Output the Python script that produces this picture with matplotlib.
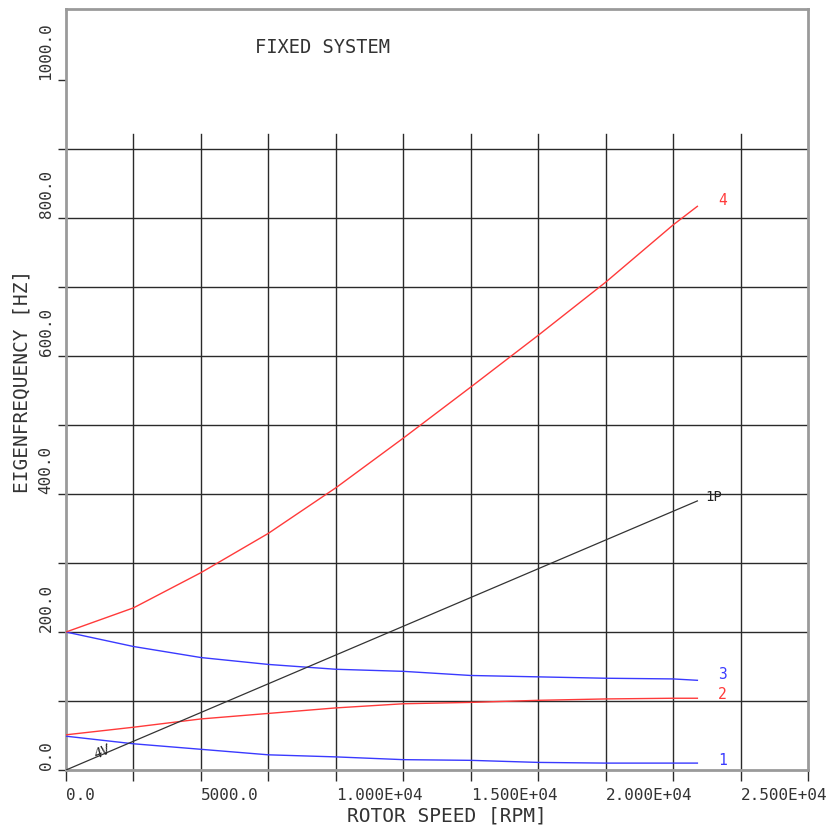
import matplotlib
matplotlib.use("Agg")
import matplotlib.pyplot as plt

# Campbell diagram data: rotor speed [rpm] vs. eigenfrequency [Hz]
speed = [0, 2500, 5000, 7500, 10000, 12500, 15000, 17500, 20000, 22500, 23400]
mode1 = [49, 38, 30, 22, 19, 15, 14, 11, 10, 10, 10]
mode2 = [51, 62, 74, 82, 90, 96, 98, 101, 103, 104, 104]
mode3 = [200, 179, 163, 153, 146, 143, 137, 135, 133, 132, 130]
mode4 = [200, 235, 286, 343, 409, 481, 555, 630, 707, 790, 817]
speed_1p = [0, 23400]
freq_1p = [0, 390]

mode_labels = ["1", "2", "3", "4"]
x_ticks = [0, 5000, 10000, 15000, 20000, 25000]
x_ticklabels = ["0.0", "5000.0", "1.000E+04", "1.500E+04", "2.000E+04", "2.500E+04"]
y_ticks = [0, 200, 400, 600, 800, 1000]
y_ticklabels = ["0.0", "200.0", "400.0", "600.0", "800.0", "1000.0"]

RED = "#ff3a3a"
BLUE = "#3a3aff"
GRID = "#2a2a2a"
TXT = "#333333"
FONT = "DejaVu Sans Mono"

fig = plt.figure(figsize=(8.3, 8.27), dpi=100)
ax = fig.add_axes([66 / 830, 57 / 827, 742 / 830, 761 / 827])
ax.set_xlim(0, 27500)
ax.set_ylim(0, 1103)

# grid: horizontal lines over full width, vertical ones stop above 900 Hz
for y in range(100, 1000, 100):
    ax.axhline(y, color=GRID, lw=1.0, zorder=1)
for x in range(2500, 27500, 2500):
    ax.plot([x, x], [0, 922], color=GRID, lw=1.0, zorder=1)

lw = 1.0
ax.plot(speed, mode1, color=BLUE, lw=lw, zorder=3)
ax.plot(speed, mode2, color=RED, lw=lw, zorder=3)
ax.plot(speed, mode3, color=BLUE, lw=lw, zorder=3)
ax.plot(speed, mode4, color=RED, lw=lw, zorder=3)
ax.plot(speed_1p, freq_1p, color="#333333", lw=0.9, zorder=3)

# curve labels at the end of each branch
for vals, lab, col, dy in [(mode1, mode_labels[0], BLUE, 2),
                           (mode2, mode_labels[1], RED, 3),
                           (mode3, mode_labels[2], BLUE, 4),
                           (mode4, mode_labels[3], RED, 4)]:
    ax.annotate(lab, (speed[-1], vals[-1]), xytext=(15, dy),
                textcoords="offset points", color=col, fontsize=10.5,
                family=FONT, va="center", ha="left")
ax.annotate("1P", (speed_1p[-1], freq_1p[-1]), xytext=(6, 3),
            textcoords="offset points", color="#222222", fontsize=10,
            family=FONT, va="center", ha="left")
ax.text(1350, 27, "4V", fontsize=10, family=FONT, style="italic",
        color="#222222", rotation=25, va="center", ha="center")

ax.text(0.2547, 0.9488, "FIXED SYSTEM", transform=ax.transAxes,
        fontsize=13.5, family=FONT, color=TXT, va="center", ha="left")

# ticks
ax.set_xticks(x_ticks)
ax.set_xticklabels(x_ticklabels)
ax.set_xticks(range(0, 27501, 2500), minor=True)
ax.set_yticks(y_ticks)
ax.set_yticklabels(y_ticklabels)
ax.set_yticks(range(0, 1001, 100), minor=True)
ax.tick_params(axis="x", which="both", direction="out", length=8,
               width=1.0, color=GRID, pad=5)
ax.tick_params(axis="y", which="both", direction="out", length=6,
               width=1.0, color=GRID, pad=3)
for lbl in ax.get_xticklabels():
    lbl.set_ha("left")
    lbl.set_family(FONT)
    lbl.set_fontsize(11.5)
    lbl.set_color(TXT)
for lbl in ax.get_yticklabels():
    lbl.set_rotation(90)
    lbl.set_va("bottom")
    lbl.set_ha("right")
    lbl.set_family(FONT)
    lbl.set_fontsize(11.5)
    lbl.set_color(TXT)

ax.set_xlabel("ROTOR SPEED [RPM]", family=FONT, fontsize=14, color=TXT)
ax.xaxis.set_label_coords(0.513, -0.048)
ax.set_ylabel("EIGENFREQUENCY [HZ]", family=FONT, fontsize=14, color=TXT)
ax.yaxis.set_label_coords(-0.046, 0.511)

for sp in ax.spines.values():
    sp.set_color("#9a9a9a")
    sp.set_linewidth(2)

fig.savefig("out.png", dpi=100)
